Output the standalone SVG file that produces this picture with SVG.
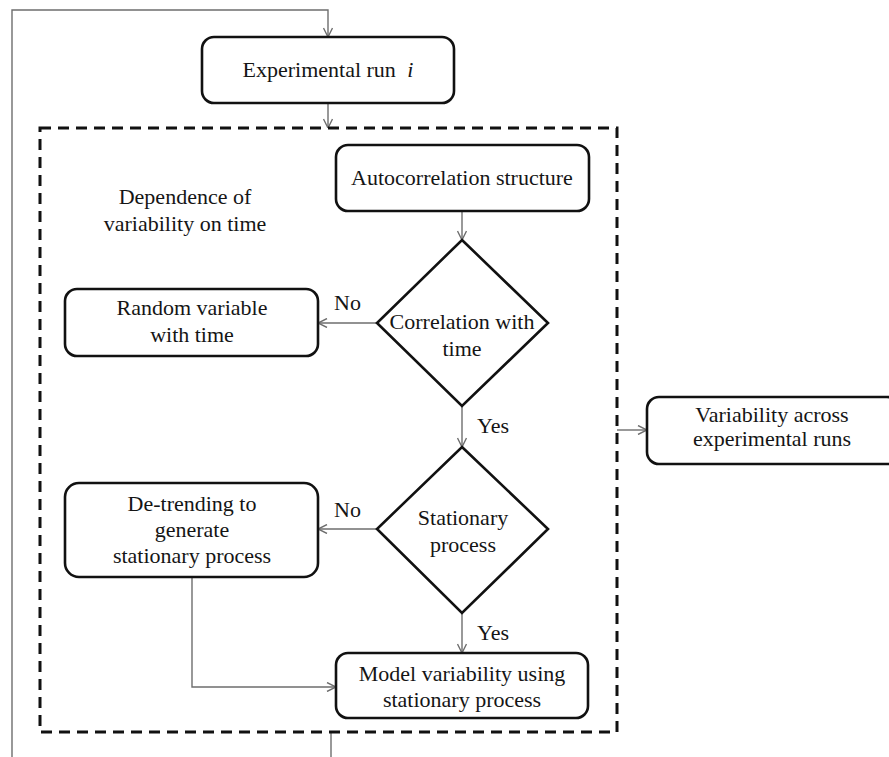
<svg xmlns="http://www.w3.org/2000/svg" width="889" height="757" viewBox="0 0 889 757" font-family="'Liberation Serif', 'Times New Roman', Times, serif">
<defs>
<style>
.box{fill:#fff;stroke:#111;stroke-width:2.6}
.dec{fill:#fff;stroke:#111;stroke-width:2.6;stroke-linejoin:miter}
text{font-family:'Liberation Serif','Times New Roman',Times,serif;font-size:22px;fill:#151515}
.t{text-anchor:middle}
.c{fill:none;stroke:#6e6e6e;stroke-width:1.4}
.dash{fill:none;stroke:#111;stroke-width:3;stroke-dasharray:11 7}
</style>
<marker id="ah" viewBox="0 0 10 10" refX="10" refY="5" markerWidth="10" markerHeight="10" markerUnits="userSpaceOnUse" orient="auto">
<path d="M1,0.5 L10,5 L1,9.5" fill="none" stroke="#6e6e6e" stroke-width="1.4"/>
</marker>
</defs>
<rect width="889" height="757" fill="#fff"/>

<g id="connectors">
<path class="c" d="M12,757 V10 H328 V37" marker-end="url(#ah)"/>
<path class="c" d="M328,103 V128" marker-end="url(#ah)"/>
<path class="c" d="M462,211 V240" marker-end="url(#ah)"/>
<path class="c" d="M377,323 H318" marker-end="url(#ah)"/>
<path class="c" d="M462,406 V447" marker-end="url(#ah)"/>
<path class="c" d="M377,529 H318" marker-end="url(#ah)"/>
<path class="c" d="M462,613 V653" marker-end="url(#ah)"/>
<path class="c" d="M192,577 V687 H336" marker-end="url(#ah)"/>
<path class="c" d="M617,430 H647" marker-end="url(#ah)"/>
<path class="c" d="M331,732 V757"/>
<text x="334" y="310">No</text>
<text x="477" y="433">Yes</text>
<text x="334" y="517">No</text>
<text x="477" y="640">Yes</text>
</g>

<g id="group-dependence">
<rect class="dash" x="40" y="128" width="577" height="604"/>
<text class="t" x="185" y="204">Dependence of</text>
<text class="t" x="185" y="231">variability on time</text>
</g>

<g id="node-experimental">
<rect class="box" x="202" y="37" width="252" height="66" rx="12"/>
<text class="t" x="328" y="77">Experimental run <tspan font-style="italic" dx="6">i</tspan></text>
</g>

<g id="node-autocorrelation">
<rect class="box" x="336" y="145" width="253" height="66" rx="12"/>
<text class="t" x="462" y="185">Autocorrelation structure</text>
</g>

<g id="node-correlation">
<polygon class="dec" points="462,240 548,323 462,406 377,323"/>
<text class="t" x="462" y="329">Correlation with</text>
<text class="t" x="462" y="356">time</text>
</g>

<g id="node-random">
<rect class="box" x="65" y="289" width="253" height="67" rx="12"/>
<text class="t" x="192" y="315">Random variable</text>
<text class="t" x="192" y="342">with time</text>
</g>

<g id="node-stationary">
<polygon class="dec" points="462,447 548,529 462,613 377,529"/>
<text class="t" x="463" y="525">Stationary</text>
<text class="t" x="463" y="552">process</text>
</g>

<g id="node-detrending">
<rect class="box" x="65" y="483" width="253" height="94" rx="14"/>
<text class="t" x="192" y="511">De-trending to</text>
<text class="t" x="192" y="537">generate</text>
<text class="t" x="192" y="563">stationary process</text>
</g>

<g id="node-model">
<rect class="box" x="336" y="653" width="252" height="65" rx="12"/>
<text class="t" x="462" y="681">Model variability using</text>
<text class="t" x="462" y="707">stationary process</text>
</g>

<g id="node-variability">
<rect class="box" x="647" y="397" width="252" height="67" rx="12"/>
<text class="t" x="772" y="422">Variability across</text>
<text class="t" x="772" y="446">experimental runs</text>
</g>
</svg>
